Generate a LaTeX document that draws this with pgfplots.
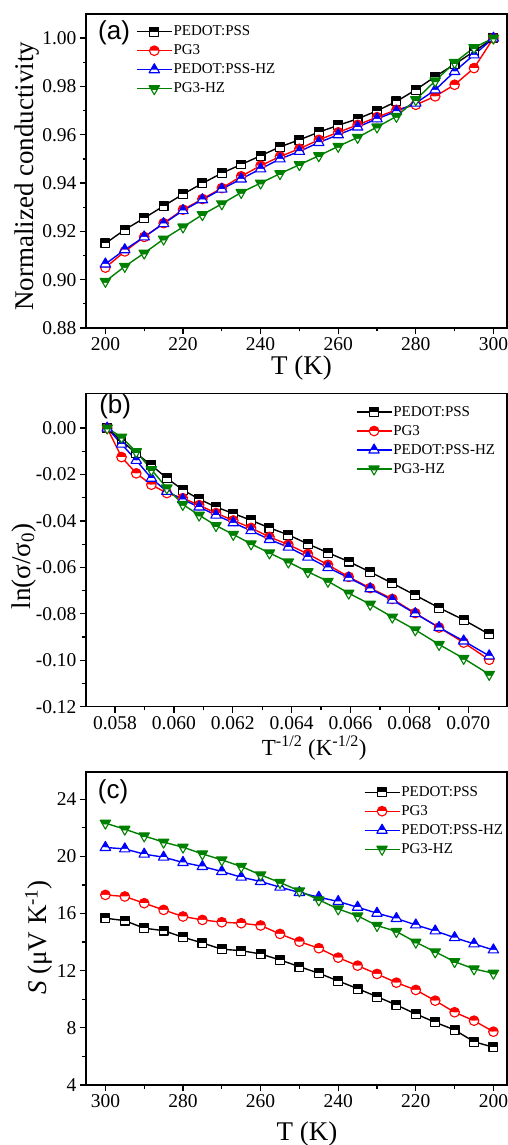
\documentclass[border=0pt]{standalone}
\usepackage{fontspec}
\setmainfont{Liberation Serif}
\newfontfamily\arialfont{Liberation Sans}
\usepackage{pgfplots}
\usepackage{pgfplotstable}
\pgfplotsset{compat=1.18}

\definecolor{ogreen}{rgb}{0,0.5,0}

% half filled marks: top half in series colour, bottom half white
\pgfdeclareplotmark{hsquare}{%
  \pgfpathrectangle{\pgfqpoint{-\pgfplotmarksize}{0pt}}{\pgfqpoint{2\pgfplotmarksize}{\pgfplotmarksize}}%
  \pgfusepathqfill
  \begin{pgfscope}\pgfsetfillcolor{white}%
  \pgfpathrectangle{\pgfqpoint{-\pgfplotmarksize}{-\pgfplotmarksize}}{\pgfqpoint{2\pgfplotmarksize}{\pgfplotmarksize}}%
  \pgfusepathqfill\end{pgfscope}%
  \pgfpathrectangle{\pgfqpoint{-\pgfplotmarksize}{-\pgfplotmarksize}}{\pgfqpoint{2\pgfplotmarksize}{2\pgfplotmarksize}}%
  \pgfusepathqstroke
}
\pgfdeclareplotmark{hcircle}{%
  \pgfpathmoveto{\pgfqpoint{\pgfplotmarksize}{0pt}}%
  \pgfpatharc{0}{180}{\pgfplotmarksize}%
  \pgfpathclose\pgfusepathqfill
  \begin{pgfscope}\pgfsetfillcolor{white}%
  \pgfpathmoveto{\pgfqpoint{-\pgfplotmarksize}{0pt}}%
  \pgfpatharc{180}{360}{\pgfplotmarksize}%
  \pgfpathclose\pgfusepathqfill\end{pgfscope}%
  \pgfpathcircle{\pgfpointorigin}{\pgfplotmarksize}\pgfusepathqstroke
}
\pgfdeclareplotmark{htriup}{%
  \pgfpathmoveto{\pgfqpoint{0pt}{\pgfplotmarksize}}%
  \pgfpathlineto{\pgfqpoint{-0.577\pgfplotmarksize}{0pt}}%
  \pgfpathlineto{\pgfqpoint{0.577\pgfplotmarksize}{0pt}}%
  \pgfpathclose\pgfusepathqfill
  \begin{pgfscope}\pgfsetfillcolor{white}%
  \pgfpathmoveto{\pgfqpoint{-0.577\pgfplotmarksize}{0pt}}%
  \pgfpathlineto{\pgfqpoint{-0.866\pgfplotmarksize}{-0.5\pgfplotmarksize}}%
  \pgfpathlineto{\pgfqpoint{0.866\pgfplotmarksize}{-0.5\pgfplotmarksize}}%
  \pgfpathlineto{\pgfqpoint{0.577\pgfplotmarksize}{0pt}}%
  \pgfpathclose\pgfusepathqfill\end{pgfscope}%
  \pgfpathmoveto{\pgfqpoint{0pt}{\pgfplotmarksize}}%
  \pgfpathlineto{\pgfqpoint{-0.866\pgfplotmarksize}{-0.5\pgfplotmarksize}}%
  \pgfpathlineto{\pgfqpoint{0.866\pgfplotmarksize}{-0.5\pgfplotmarksize}}%
  \pgfpathclose\pgfusepathqstroke
}
\pgfdeclareplotmark{htridown}{%
  \pgfpathmoveto{\pgfqpoint{-0.866\pgfplotmarksize}{0.5\pgfplotmarksize}}%
  \pgfpathlineto{\pgfqpoint{0.866\pgfplotmarksize}{0.5\pgfplotmarksize}}%
  \pgfpathlineto{\pgfqpoint{0.433\pgfplotmarksize}{-0.25\pgfplotmarksize}}%
  \pgfpathlineto{\pgfqpoint{-0.433\pgfplotmarksize}{-0.25\pgfplotmarksize}}%
  \pgfpathclose\pgfusepathqfill
  \begin{pgfscope}\pgfsetfillcolor{white}%
  \pgfpathmoveto{\pgfqpoint{-0.433\pgfplotmarksize}{-0.25\pgfplotmarksize}}%
  \pgfpathlineto{\pgfqpoint{0.433\pgfplotmarksize}{-0.25\pgfplotmarksize}}%
  \pgfpathlineto{\pgfqpoint{0pt}{-\pgfplotmarksize}}%
  \pgfpathclose\pgfusepathqfill\end{pgfscope}%
  \pgfpathmoveto{\pgfqpoint{0pt}{-\pgfplotmarksize}}%
  \pgfpathlineto{\pgfqpoint{-0.866\pgfplotmarksize}{0.5\pgfplotmarksize}}%
  \pgfpathlineto{\pgfqpoint{0.866\pgfplotmarksize}{0.5\pgfplotmarksize}}%
  \pgfpathclose\pgfusepathqstroke
}

% (a) normalized conductivity vs T
\pgfplotstableread{
T    P      PG  PH     GH
200 0.9150 0.9050 0.9065 0.8993
205 0.9207 0.9117 0.9124 0.9055
210 0.9255 0.9177 0.9177 0.9110
215 0.9305 0.9234 0.9232 0.9168
220 0.9354 0.9290 0.9286 0.9218
225 0.9399 0.9334 0.9331 0.9269
230 0.9441 0.9379 0.9375 0.9314
235 0.9477 0.9428 0.9417 0.9361
240 0.9513 0.9472 0.9459 0.9400
245 0.9550 0.9510 0.9500 0.9439
250 0.9579 0.9542 0.9531 0.9476
255 0.9611 0.9579 0.9568 0.9513
260 0.9639 0.9610 0.9600 0.9552
265 0.9666 0.9641 0.9632 0.9589
270 0.9699 0.9673 0.9666 0.9632
275 0.9738 0.9703 0.9697 0.9676
280 0.9786 0.9724 0.9731 0.9745
285 0.9841 0.9759 0.9786 0.9823
290 0.9892 0.9807 0.9862 0.9899
295 0.9945 0.9876 0.9931 0.9961
300 1.0000 1.0000 1.0000 1.0000
}\tabA

% (b) ln(sigma/sigma0) vs T^-1/2
\pgfplotstableread{
x        P       PG      PH      GH
0.057735 0       0       0       0
0.058222 -0.0055 -0.0125 -0.0069 -0.0039
0.058722 -0.0109 -0.0195 -0.0139 -0.0102
0.059235 -0.0160 -0.0244 -0.0216 -0.0179
0.059761 -0.0216 -0.0280 -0.0273 -0.0258
0.060302 -0.0266 -0.0302 -0.0308 -0.0329
0.060858 -0.0306 -0.0332 -0.0340 -0.0375
0.061430 -0.0340 -0.0366 -0.0375 -0.0420
0.062017 -0.0368 -0.0398 -0.0408 -0.0458
0.062622 -0.0397 -0.0430 -0.0442 -0.0499
0.063246 -0.0430 -0.0469 -0.0480 -0.0538
0.063888 -0.0460 -0.0502 -0.0513 -0.0577
0.064550 -0.0499 -0.0542 -0.0556 -0.0619
0.065233 -0.0537 -0.0589 -0.0601 -0.0660
0.065938 -0.0575 -0.0641 -0.0645 -0.0711
0.066667 -0.0620 -0.0689 -0.0692 -0.0759
0.067420 -0.0668 -0.0736 -0.0741 -0.0814
0.068199 -0.0720 -0.0797 -0.0799 -0.0869
0.069007 -0.0774 -0.0859 -0.0859 -0.0932
0.069843 -0.0826 -0.0924 -0.0917 -0.0992
0.070711 -0.0888 -0.0998 -0.0981 -0.1061
}\tabB

% (c) Seebeck coefficient vs T
\pgfplotstableread{
T   P     PG    PH    GH
300 15.67 17.30 20.62 22.32
295 15.50 17.19 20.52 21.90
290 14.97 16.72 20.15 21.43
285 14.80 16.25 19.94 20.99
280 14.34 15.79 19.57 20.64
275 13.94 15.55 19.29 20.17
270 13.50 15.39 18.94 19.75
265 13.40 15.32 18.54 19.29
260 13.17 15.16 18.24 18.70
255 12.75 14.57 17.84 18.17
250 12.28 14.03 17.47 17.58
245 11.82 13.57 17.14 16.95
240 11.28 12.91 16.84 16.32
235 10.74 12.35 16.44 15.83
230 10.18 11.77 16.02 15.16
225 9.60  11.16 15.65 14.74
220 8.97  10.65 15.20 13.99
215 8.39  9.90  14.78 13.31
210 7.85  9.09  14.31 12.63
205 7.03  8.50  13.87 12.12
200 6.64  7.73  13.45 11.82
}\tabC

\pgfplotsset{
  legend image code/.code={%
    \draw[mark repeat=2,mark phase=2,#1] plot coordinates {(0pt,0pt) (17.5pt,0pt) (35pt,0pt)};},
  panel/.style={
    scale only axis, width=421pt, anchor=south west,
    axis line style={line width=1.6pt},
    tick pos=left, tick align=outside,
    major tick length=6pt, minor tick length=3.5pt,
    every tick/.append style={black, line width=1.3pt},
    minor x tick num=1, minor y tick num=1,
    scaled ticks=false,
    /pgf/number format/assume math mode=true,
    tick label style={font=\fontsize{19.5}{20}\selectfont},
    label style={font=\fontsize{27}{28}\selectfont},
    every axis plot/.append style={line width=1.4pt, line join=round,
      mark options={line width=1.1pt, solid}},
    legend cell align=left,
    legend style={draw=none, fill=none, inner sep=0pt, outer sep=0pt,
      row sep=3pt, column sep=0pt, anchor=north west,
      font=\fontsize{15}{16}\selectfont,
      nodes={inner sep=1pt, text height=11pt, text depth=3pt}},
  },
  sP/.style={black, mark=hsquare, mark size=4.4pt},
  sG/.style={red, mark=hcircle, mark size=4.8pt},
  sH/.style={blue, mark=htriup, mark size=6pt},
  sM/.style={ogreen, mark=htridown, mark size=6pt},
}

\begin{document}
\begin{tikzpicture}
\useasboundingbox (0,0) rectangle (508pt,1145pt);

\begin{axis}[panel, at={(86pt,817pt)}, height=314pt,
  xmin=195, xmax=303.5, ymin=0.88, ymax=1.01,
  xtick={200,220,240,260,280,300},
  ytick={0.88,0.90,0.92,0.94,0.96,0.98,1.00},
  yticklabel style={/pgf/number format/.cd, fixed, fixed zerofill, precision=2},
  xlabel={T (K)}, ylabel={Normalized conductivity},
  xlabel style={at={(axis description cs:0.512,-0.088)}, anchor=north, inner sep=0pt},
  ylabel style={at={(axis description cs:-0.140,0.483)}, anchor=center, inner sep=0pt},
  legend style={at={(axis description cs:0.119,0.969)}},
]
\addplot[sP] table[x=T, y=P] {\tabA};
\addplot[sG] table[x=T, y=PG] {\tabA};
\addplot[sH] table[x=T, y=PH] {\tabA};
\addplot[sM] table[x=T, y=GH] {\tabA};
\legend{PEDOT:PSS, PG3, PEDOT:PSS-HZ, PG3-HZ}
\node[font=\arialfont\fontsize{26}{26}\selectfont, anchor=west, inner sep=0pt] at (axis description cs:0.0285,0.9395) {(a)};
\end{axis}

\begin{axis}[panel, at={(86pt,438.3pt)}, height=313pt,
  xmin=0.057015, xmax=0.071315, ymin=-0.12, ymax=0.0148,
  xtick={0.058,0.060,0.062,0.064,0.066,0.068,0.070},
  ytick={-0.12,-0.10,-0.08,-0.06,-0.04,-0.02,0},
  xticklabel style={/pgf/number format/.cd, fixed, fixed zerofill, precision=3},
  yticklabel style={/pgf/number format/.cd, fixed, fixed zerofill, precision=2},
  xlabel={T\textsuperscript{-1/2} (K\textsuperscript{-1/2})},
  ylabel={ln(σ/σ\textsubscript{0})},
  xlabel style={at={(axis description cs:0.542,-0.093)}, anchor=north, inner sep=0pt,
    font=\fontsize{23}{24}\selectfont},
  ylabel style={at={(axis description cs:-0.148,0.448)}, anchor=center, inner sep=0pt},
  legend style={at={(axis description cs:0.641,0.967)}},
]
\addplot[sP] table[x=x, y=P] {\tabB};
\addplot[sG] table[x=x, y=PG] {\tabB};
\addplot[sH] table[x=x, y=PH] {\tabB};
\addplot[sM] table[x=x, y=GH] {\tabB};
\legend{PEDOT:PSS, PG3, PEDOT:PSS-HZ, PG3-HZ}
\node[font=\arialfont\fontsize{26}{26}\selectfont, anchor=west, inner sep=0pt] at (axis description cs:0.031,0.9595) {(b)};
\end{axis}

\begin{axis}[panel, at={(86pt,60pt)}, height=313pt,
  x dir=reverse, xmin=196.5, xmax=305, ymin=4, ymax=25.9,
  xtick={200,220,240,260,280,300},
  ytick={4,8,12,16,20,24},
  xlabel={T (K)}, ylabel={\textit{S} (μV K\textsuperscript{-1})},
  xlabel style={at={(axis description cs:0.525,-0.118)}, anchor=north, inner sep=0pt},
  ylabel style={at={(axis description cs:-0.112,0.471)}, anchor=center, inner sep=0pt},
  legend style={at={(axis description cs:0.660,0.961)}},
]
\addplot[sP] table[x=T, y=P] {\tabC};
\addplot[sG] table[x=T, y=PG] {\tabC};
\addplot[sH] table[x=T, y=PH] {\tabC};
\addplot[sM] table[x=T, y=GH] {\tabC};
\legend{PEDOT:PSS, PG3, PEDOT:PSS-HZ, PG3-HZ}
\node[font=\arialfont\fontsize{26}{26}\selectfont, anchor=west, inner sep=0pt] at (axis description cs:0.028,0.937) {(c)};
\end{axis}
\end{tikzpicture}
\end{document}
